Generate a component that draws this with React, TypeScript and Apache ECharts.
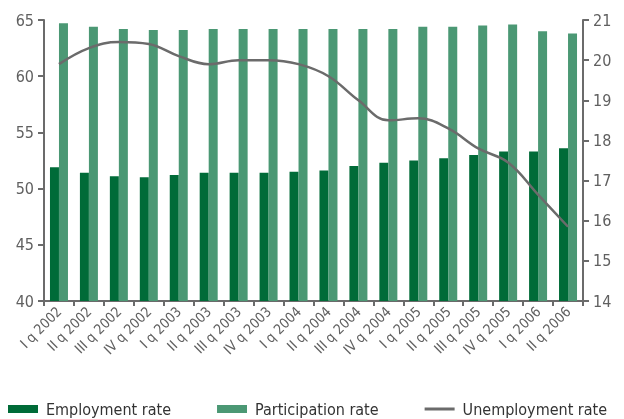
import React, { useEffect, useRef } from "react";
import * as echarts from "echarts";

const categories = [
  "I q 2002", "II q 2002", "III q 2002", "IV q 2002",
  "I q 2003", "II q 2003", "III q 2003", "IV q 2003",
  "I q 2004", "II q 2004", "III q 2004", "IV q 2004",
  "I q 2005", "II q 2005", "III q 2005", "IV q 2005",
  "I q 2006", "II q 2006",
];
const employmentRate = [51.9, 51.4, 51.1, 51.0, 51.2, 51.4, 51.4, 51.4, 51.5, 51.6, 52.0, 52.3, 52.5, 52.7, 53.0, 53.3, 53.3, 53.6];
const participationRate = [64.7, 64.4, 64.2, 64.1, 64.1, 64.2, 64.2, 64.2, 64.2, 64.2, 64.2, 64.2, 64.4, 64.4, 64.5, 64.6, 64.0, 63.8];
const unemploymentRate = [19.9, 20.3, 20.45, 20.4, 20.1, 19.9, 20.0, 20.0, 19.9, 19.6, 19.0, 18.5, 18.55, 18.3, 17.8, 17.45, 16.65, 15.85];

const FONT = "'DejaVu Sans Condensed', sans-serif";
const AXIS = "#6b6b6b";
const TEXT = "#606060";

export default function App() {
  const ref = useRef<HTMLDivElement>(null);
  useEffect(() => {
    if (!ref.current) return;
    const chart = echarts.init(ref.current, undefined, { renderer: "svg" });
    chart.setOption({
      animation: false,
      textStyle: { fontFamily: FONT },
      grid: { left: 44, right: 41, top: 20, bottom: 118, containLabel: false },
      legend: {
        top: 401,
        left: 8,
        width: 900,
        padding: 0,
        itemWidth: 30,
        itemHeight: 8,
        itemGap: 46,
        textStyle: { fontSize: 16, color: "#333", fontFamily: FONT, padding: [0, 0, 0, 3] },
        data: [
          { name: "Employment rate", icon: "rect" },
          { name: "Participation rate", icon: "rect" },
          { name: "Unemployment rate", icon: "path://M0,0H30V3H0Z" },
        ],
      },
      xAxis: {
        type: "category",
        data: categories,
        axisLine: { lineStyle: { color: AXIS, width: 2 } },
        axisTick: { show: true, length: 5, lineStyle: { color: AXIS, width: 2 } },
        axisLabel: { rotate: 45, fontSize: 14, color: TEXT, margin: 8, interval: 0 },
      },
      yAxis: [
        {
          type: "value",
          min: 40,
          max: 65,
          interval: 5,
          splitLine: { show: false },
          axisLine: { show: true, lineStyle: { color: AXIS, width: 2 } },
          axisTick: { show: true, length: 6, lineStyle: { color: AXIS, width: 2 } },
          axisLabel: { fontSize: 16, color: TEXT, margin: 10 },
        },
        {
          type: "value",
          min: 14,
          max: 21,
          interval: 1,
          position: "right",
          splitLine: { show: false },
          axisLine: { show: true, lineStyle: { color: AXIS, width: 2 } },
          axisTick: { show: true, length: 6, lineStyle: { color: AXIS, width: 2 } },
          axisLabel: { fontSize: 16, color: TEXT, margin: 10 },
        },
      ],
      series: [
        {
          name: "Employment rate",
          type: "bar",
          data: employmentRate,
          barWidth: 9,
          barGap: "0%",
          itemStyle: { color: "#006b38" },
        },
        {
          name: "Participation rate",
          type: "bar",
          data: participationRate,
          barWidth: 9,
          barGap: "0%",
          itemStyle: { color: "#4b9874" },
        },
        {
          name: "Unemployment rate",
          type: "line",
          yAxisIndex: 1,
          data: unemploymentRate,
          smooth: 0.4,
          symbol: "none",
          lineStyle: { color: "#6b6b6b", width: 2.5 },
          itemStyle: { color: "#6b6b6b" },
        },
      ],
    });
    return () => chart.dispose();
  }, []);
  return (
    <div style={{ position: "fixed", left: 0, top: 0 }}>
      <div ref={ref} style={{ width: 624, height: 419 }} />
    </div>
  );
}
